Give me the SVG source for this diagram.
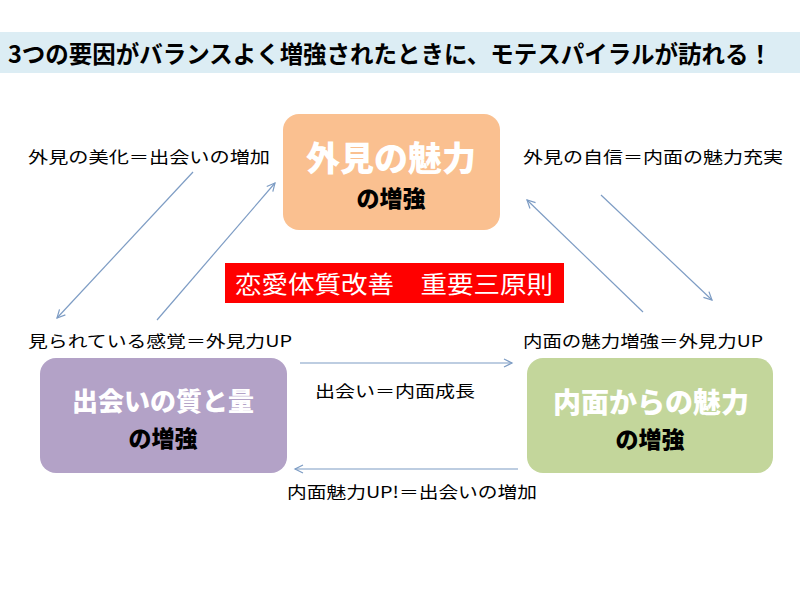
<svg xmlns="http://www.w3.org/2000/svg" width="800" height="600" viewBox="0 0 800 600">
<defs>
<style>
.lbl{font-family:"Noto Sans CJK JP","Liberation Sans",sans-serif;font-size:16px;fill:#000}
.big{font-family:"Noto Sans CJK JP","Liberation Sans",sans-serif;font-weight:900;fill:#fff;text-anchor:middle}
.sub{font-family:"Noto Sans CJK JP","Liberation Sans",sans-serif;font-weight:900;fill:#000;font-size:23px;text-anchor:middle}
.conn{stroke:#7D9CC4;stroke-width:1.2;fill:none;marker-end:url(#arr)}
</style>
<marker id="arr" markerWidth="12" markerHeight="12" refX="10" refY="6" orient="auto" markerUnits="userSpaceOnUse">
<path d="M2,2 L10,6 L2,10" fill="none" stroke="#7D9CC4" stroke-width="1.2"/>
</marker>
</defs>
<rect width="800" height="600" fill="#fff"/>
<g id="title">
<rect x="0" y="32" width="800" height="41" fill="#DCEDF4"/>
<text x="8" y="63" font-family="Noto Sans CJK JP, Liberation Sans, sans-serif" font-size="24" font-weight="bold" textLength="764" lengthAdjust="spacingAndGlyphs">3つの要因がバランスよく増強されたときに、モテスパイラルが訪れる！</text>
</g>
<g id="connectors">
<line class="conn" x1="193" y1="172" x2="57" y2="318"/>
<line class="conn" x1="157" y1="320" x2="275" y2="183"/>
<line class="conn" x1="643" y1="312" x2="527" y2="200"/>
<line class="conn" x1="601" y1="195" x2="712" y2="300"/>
<line class="conn" x1="300" y1="363" x2="512" y2="363"/>
<line class="conn" x1="518" y1="469" x2="295" y2="469"/>
</g>
<g id="labels">
<text class="lbl" x="28" y="163" textLength="242" lengthAdjust="spacingAndGlyphs">外見の美化＝出会いの増加</text>
<text class="lbl" x="523" y="163" textLength="260" lengthAdjust="spacingAndGlyphs">外見の自信＝内面の魅力充実</text>
<text class="lbl" x="28" y="347" textLength="264" lengthAdjust="spacingAndGlyphs">見られている感覚＝外見力UP</text>
<text class="lbl" x="523" y="347" textLength="240" lengthAdjust="spacingAndGlyphs">内面の魅力増強＝外見力UP</text>
<text class="lbl" x="315" y="397" textLength="160" lengthAdjust="spacingAndGlyphs">出会い＝内面成長</text>
<text class="lbl" x="287" y="498" textLength="250" lengthAdjust="spacingAndGlyphs">内面魅力UP!＝出会いの増加</text>
</g>
<g id="node-appearance">
<rect x="283" y="114" width="217" height="116" rx="16" fill="#FAC090"/>
<text class="big" x="391" y="171" font-size="34">外見の魅力</text>
<text class="sub" x="391" y="207">の増強</text>
</g>
<g id="node-encounter">
<rect x="40" y="358" width="247" height="115" rx="16" fill="#B3A2C7"/>
<text class="big" x="163" y="411" font-size="26">出会いの質と量</text>
<text class="sub" x="163" y="447">の増強</text>
</g>
<g id="node-inner">
<rect x="527" y="358" width="246" height="115" rx="16" fill="#C3D69B"/>
<text class="big" x="651" y="413" font-size="28">内面からの魅力</text>
<text class="sub" x="650" y="448">の増強</text>
</g>
<g id="principles">
<rect x="225" y="263" width="339" height="40" fill="#FF0000"/>
<text x="235" y="293" font-family="Noto Sans CJK JP, Liberation Sans, sans-serif" font-size="24" fill="#fff" textLength="318" lengthAdjust="spacingAndGlyphs">恋愛体質改善　重要三原則</text>
</g>
</svg>
